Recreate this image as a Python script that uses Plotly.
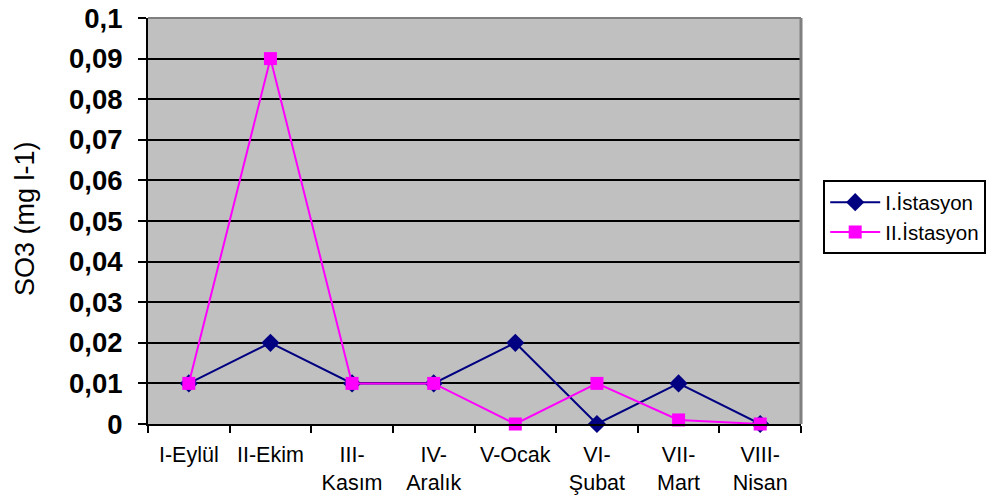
import plotly.graph_objects as go

categories = ["I-Eylül", "II-Ekim", "III-<br>Kasım", "IV-<br>Aralık", "V-Ocak",
              "VI-<br>Şubat", "VII-<br>Mart", "VIII-<br>Nisan"]
istasyon1 = [0.01, 0.02, 0.01, 0.01, 0.02, 0.0, 0.01, 0.0]
istasyon2 = [0.01, 0.09, 0.01, 0.01, 0.0, 0.01, 0.001, 0.0]
y_tickvals = [0, 0.01, 0.02, 0.03, 0.04, 0.05, 0.06, 0.07, 0.08, 0.09, 0.1]
y_ticktext = ["0", "0,01", "0,02", "0,03", "0,04", "0,05", "0,06", "0,07", "0,08", "0,09", "0,1"]

FONT = "Liberation Sans, Arial, sans-serif"

fig = go.Figure()
fig.add_trace(go.Scatter(
    x=categories, y=istasyon1, name="I.İstasyon", mode="lines+markers",
    line=dict(color="#000080", width=2),
    marker=dict(symbol="diamond", size=14, color="#000080"),
    cliponaxis=False,
))
fig.add_trace(go.Scatter(
    x=categories, y=istasyon2, name="II.İstasyon", mode="lines+markers",
    line=dict(color="#FF00FF", width=2),
    marker=dict(symbol="square", size=13, color="#FF00FF"),
    cliponaxis=False,
))

fig.update_layout(
    width=986, height=502,
    margin=dict(l=148, r=185, t=18, b=78, autoexpand=False),
    paper_bgcolor="white",
    plot_bgcolor="#C0C0C0",
    font=dict(family=FONT, color="black"),
    showlegend=True,
    legend=dict(
        x=1.034, xanchor="left", y=0.6, yanchor="top",
        bgcolor="white", bordercolor="black", borderwidth=2,
        font=dict(size=20.5, family=FONT, color="black"),
        itemwidth=50, tracegroupgap=2,
    ),
    xaxis=dict(
        type="category", range=[-0.5, 7.5], automargin=False,
        tickson="boundaries", ticks="outside", ticklen=7, tickwidth=2,
        tickcolor="black", showline=True, linecolor="black", linewidth=2,
        showgrid=False, tickfont=dict(size=21.5, family=FONT, color="black"),
        ticklabelstandoff=10, fixedrange=True,
    ),
    yaxis=dict(
        range=[0, 0.1], tickvals=y_tickvals, ticktext=y_ticktext, automargin=False,
        ticks="outside", ticklen=8, tickwidth=2, tickcolor="black",
        showline=True, linecolor="black", linewidth=2,
        showgrid=True, gridcolor="black", gridwidth=2,
        zeroline=False,
        tickfont=dict(size=27.5, family=FONT, color="black", weight="bold"),
        ticklabelstandoff=10, fixedrange=True,
    ),
    shapes=[
        dict(type="line", xref="paper", yref="paper", x0=0, x1=1, y0=1, y1=1,
             line=dict(color="#808080", width=2), layer="above"),
        dict(type="line", xref="paper", yref="paper", x0=1, x1=1, y0=0, y1=1,
             line=dict(color="#808080", width=3), layer="above"),
    ],
    annotations=[
        dict(text="SO3 (mg l-1)", xref="paper", yref="paper",
             x=-(148 - 25) / 653, y=0.505, xanchor="center", yanchor="middle",
             textangle=-90, showarrow=False,
             font=dict(size=27, family=FONT, color="black")),
    ],
)

fig.write_html("out.html")
